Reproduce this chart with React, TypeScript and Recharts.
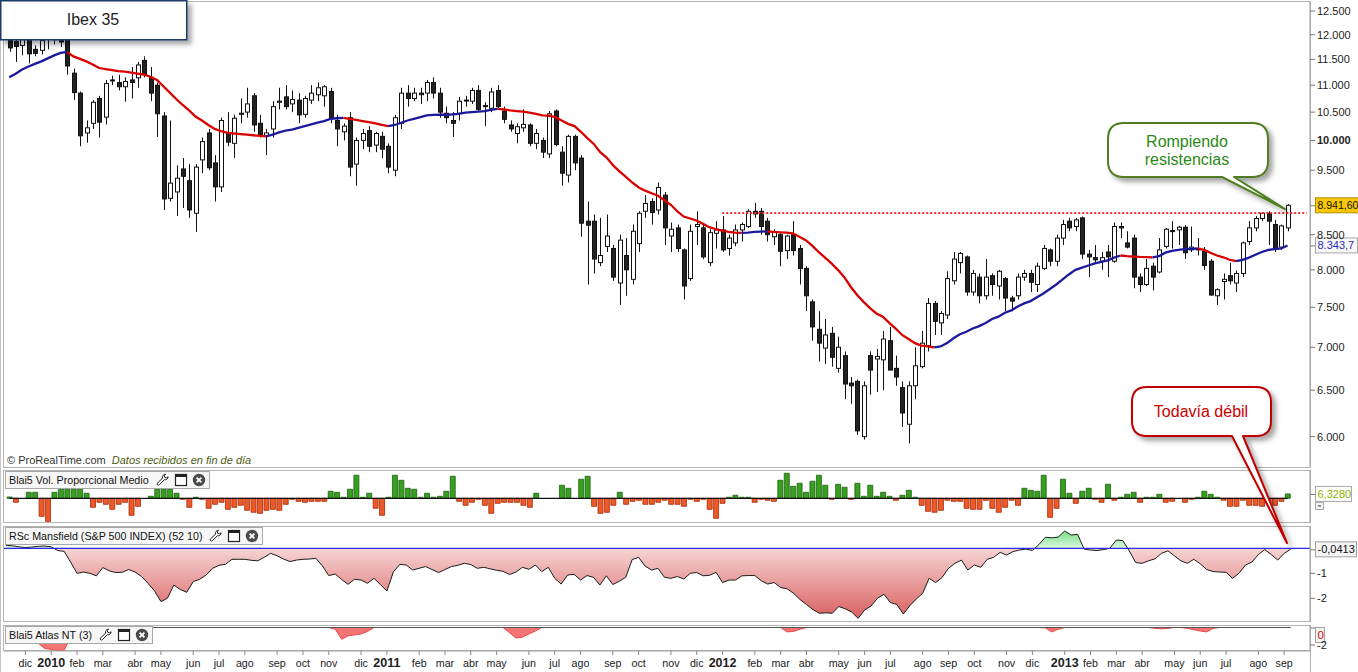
import React from "react";
import {
  ComposedChart,
  Bar,
  Line,
  Area,
  XAxis,
  YAxis,
  ReferenceLine,
  Cell,
} from "recharts";

// Ibex 35, weekly candles from the week of 16 nov 2009 to the week of 9 sep 2013
const opens = [
  11950, 11860, 11780, 11900, 11700, 11680, 11900, 12000, 11900, 11900,
  11230, 10850, 10130, 10300, 10750, 10410, 11100, 11050, 10970, 11100,
  11140, 11480, 11150, 11000, 10430, 9050, 9150, 9520, 9330, 8820,
  9670, 10130, 9620, 9230, 10130, 9950, 10460, 10500, 10800, 10300,
  10080, 10200, 10680, 10780, 10650, 10720, 10460, 10720, 10820, 10800,
  10880, 10350, 10150, 10400, 9600, 10000, 10170, 9920, 10070, 9900,
  9500, 10300, 10850, 10750, 10850, 10850, 11050, 10850, 10480, 10350,
  10480, 10720, 10700, 10900, 10620, 10570, 10900, 10520, 10270, 10120,
  10220, 10270, 9950, 10000, 9770, 10520, 9800, 9420, 10070, 9700,
  8700, 8700, 8100, 8330, 8300, 7820, 8200, 7870, 8370, 8850,
  9000, 8870, 9100, 8480, 8600, 8280, 7880, 8620, 8600, 8100,
  8520, 8570, 8300, 8380, 8570, 8620, 8850, 8850, 8700, 8470,
  8500, 8270, 8500, 8300, 8020, 7570, 7220, 6990, 7170, 6750,
  6900, 6580, 6600, 6000, 6900, 6860, 6850, 7080, 6750, 6530,
  6130, 6550, 6770, 7020, 7550, 7300, 7400, 7850, 8100, 8180,
  7700, 7900, 7650, 7920, 7780, 7880, 7620, 7650, 7900, 7950,
  7800, 8020, 8280, 8120, 8450, 8700, 8620, 8750, 8220, 8170,
  8120, 8250, 8120, 8620, 8380, 8450, 7900, 7800, 8050, 7970,
  8330, 8560, 8570, 8610, 8280, 8300, 8260, 8120, 7650, 7840,
  7920, 7820, 7950, 8400, 8600, 8740, 8820, 8650, 8320, 8600,
];

const highs = [
  12050, 11900, 11950, 11960, 11780, 11950, 12100, 12200, 12000, 12150,
  11320, 10880, 10350, 10720, 10800, 11100, 11180, 11200, 11150, 11350,
  11450, 11560, 11350, 11050, 10500, 10350, 9580, 9700, 9600, 9600,
  10050, 10200, 9750, 10400, 10500, 10450, 10750, 10950, 10850, 10450,
  10200, 10700, 10950, 11000, 10900, 10850, 10800, 11000, 11050, 11000,
  10950, 10450, 10300, 10500, 10050, 10200, 10250, 10150, 10150, 9950,
  10450, 10950, 11000, 10950, 10950, 11100, 11150, 10950, 10600, 10500,
  10780, 10800, 10950, 11000, 10680, 10950, 11000, 10600, 10350, 10300,
  10550, 10300, 10200, 10050, 10520, 10550, 9900, 10100, 10100, 9750,
  9000, 8800, 8750, 8800, 8350, 8500, 8450, 8650, 8850, 9100,
  9050, 9300, 9150, 8680, 8650, 8300, 8650, 8850, 8650, 8580,
  8700, 8780, 8500, 8650, 8680, 8880, 8980, 8900, 8750, 8580,
  8520, 8500, 8700, 8350, 8050, 7600, 7450, 7350, 7250, 7130,
  6950, 6650, 6620, 6600, 6950, 6980, 7200, 7250, 6900, 6600,
  6600, 7000, 7200, 7620, 7580, 7450, 7980, 8250, 8250, 8200,
  8000, 7950, 8150, 7950, 8000, 7900, 7650, 7950, 8000, 8000,
  8100, 8350, 8300, 8500, 8720, 8750, 8750, 8770, 8280, 8350,
  8250, 8350, 8680, 8680, 8550, 8500, 7950, 8150, 8100, 8450,
  8600, 8700, 8630, 8640, 8620, 8450, 8320, 8150, 7750, 7950,
  8100, 7990, 8400, 8700, 8780, 8830, 8850, 8720, 8650, 8960,
];

const lows = [
  11650, 11450, 11580, 11420, 11560, 11600, 11700, 11800, 11750, 11200,
  10720, 9900, 9960, 10200, 10050, 10280, 11000, 10900, 10690, 10750,
  10950, 11150, 10700, 10060, 8870, 9000, 8780, 8900, 8750, 8540,
  9450, 9500, 9000, 9150, 9900, 9700, 10300, 10400, 10150, 10050,
  9750, 10050, 10550, 10550, 10500, 10300, 10400, 10650, 10700, 10600,
  10300, 9900, 10000, 9400, 9250, 9850, 9800, 9800, 9700, 9450,
  9400, 10200, 10600, 10700, 10650, 10700, 10750, 10400, 10300, 10060,
  10350, 10600, 10650, 10500, 10250, 10500, 10550, 10300, 10150, 9950,
  10150, 9900, 9850, 9700, 9700, 9900, 9250, 9300, 9500, 8470,
  7800, 7950, 8050, 8250, 7850, 7530, 7650, 7800, 8250, 8750,
  8650, 8800, 8350, 8250, 8250, 7600, 7850, 8350, 8150, 8050,
  8300, 8250, 8200, 8330, 8400, 8600, 8750, 8500, 8400, 8350,
  8050, 8150, 8200, 7800, 7450, 7080, 6830, 6800, 6770, 6700,
  6400, 6350, 6020, 5970, 6450, 6480, 6500, 6750, 6550, 6100,
  5930, 6400, 6750, 6950, 7150, 7150, 7350, 7800, 7950, 7650,
  7650, 7550, 7600, 7650, 7600, 7450, 7450, 7600, 7850, 7700,
  7700, 8000, 8050, 8050, 8350, 8550, 8550, 8150, 7900, 8100,
  8000, 7900, 8100, 8450, 8300, 7750, 7700, 7780, 7720, 7950,
  8300, 8300, 8350, 8150, 8250, 8200, 8000, 7650, 7530, 7600,
  7800, 7700, 7900, 8350, 8550, 8700, 8350, 8250, 8280, 8550,
];

const closes = [
  11730, 11760, 11900, 11610, 11620, 11880, 12000, 11900, 11850, 11370,
  10860, 10080, 10220, 10680, 10320, 11030, 11080, 10970, 11070, 11050,
  11390, 11200, 10850, 10470, 9040, 9290, 9370, 9400, 8870, 9550,
  9980, 9540, 9230, 10350, 9970, 10390, 10480, 10650, 10270, 10100,
  10130, 10600, 10700, 10600, 10730, 10450, 10750, 10850, 10950, 10970,
  10400, 10200, 10250, 9550, 10000, 10120, 9900, 10120, 9850, 9550,
  10400, 10850, 10750, 10850, 10820, 11050, 10850, 10500, 10400, 10300,
  10700, 10720, 10900, 10550, 10600, 10870, 10600, 10370, 10200, 10240,
  10280, 9950, 10120, 9800, 10470, 9930, 9450, 10070, 9620, 8670,
  8640, 8150, 8200, 8480, 7900, 8420, 8000, 8550, 8820, 8970,
  8830, 9220, 8600, 8580, 8300, 7780, 8550, 8650, 8180, 8530,
  8570, 8280, 8450, 8570, 8650, 8850, 8810, 8620, 8500, 8540,
  8260, 8480, 8270, 8020, 7650, 7250, 7050, 7150, 6880, 7000,
  6570, 6550, 6060, 6550, 6730, 6890, 7100, 6730, 6650, 6250,
  6550, 6780, 7050, 7550, 7320, 7420, 7880, 8150, 8230, 7700,
  7950, 7650, 7900, 7800, 7980, 7620, 7580, 7900, 7950, 7830,
  8050, 8300, 8120, 8450, 8650, 8600, 8720, 8220, 8180, 8140,
  8170, 8180, 8620, 8600, 8320, 7900, 7800, 8020, 7900, 8280,
  8580, 8550, 8610, 8240, 8320, 8280, 8060, 7660, 7730, 7870,
  7850, 7950, 8380, 8600, 8740, 8820, 8700, 8300, 8630, 8942,
];

// moving average, read off the picture (drawn blue while rising, red while falling)
const movingAvg = [
  11150, 11220, 11300, 11360, 11410, 11460, 11520, 11580, 11630, 11650,
  11560, 11510, 11460, 11400, 11330, 11310, 11290, 11270, 11260, 11240,
  11220, 11200, 11160, 11100, 10980, 10860, 10740, 10630, 10530, 10420,
  10350, 10270, 10200, 10160, 10130, 10120, 10110, 10100, 10090, 10080,
  10070, 10100, 10140, 10170, 10190, 10220, 10250, 10280, 10310, 10340,
  10380, 10390, 10395, 10380, 10360, 10340, 10320, 10300, 10270, 10250,
  10270, 10310, 10350, 10380, 10410, 10440, 10450, 10455, 10450, 10460,
  10470, 10490, 10500, 10510, 10520, 10540, 10560, 10550, 10530, 10520,
  10510, 10490, 10470, 10440, 10435, 10410, 10350, 10290, 10250, 10150,
  10040, 9940, 9800, 9710, 9580, 9480, 9390, 9300, 9220, 9170,
  9130, 9090, 9020, 8950, 8850, 8770, 8740, 8710, 8660, 8610,
  8580, 8560, 8540, 8530, 8525, 8530, 8540, 8545, 8550, 8540,
  8535, 8530, 8520, 8470, 8420, 8340, 8250, 8170, 8090, 8000,
  7900, 7770, 7660, 7570, 7490, 7420, 7380, 7300, 7230, 7150,
  7100, 7050, 7020, 7010, 7000, 7010, 7050, 7110, 7160, 7190,
  7230, 7260, 7300, 7350, 7380, 7430, 7460, 7510, 7550, 7580,
  7630, 7680, 7740, 7800, 7870, 7940, 8000, 8030, 8060, 8090,
  8110, 8130, 8170, 8200, 8190, 8185, 8180, 8178, 8175, 8190,
  8240, 8265, 8280, 8290, 8295, 8300, 8280, 8240, 8200, 8175,
  8140, 8120, 8140, 8170, 8210, 8250, 8280, 8290, 8300, 8344,
];

// Blai5 Vol. Proporcional Medio
const volume = [
  1.9, -5.8, 0, 8.7, 8.7, -26.1, -33.4, 8.7, 13.1, 13.1,
  13.1, 13.1, 7.3, -13.1, -5.8, -8.7, -16, -8.7, -5.8, -24.7,
  -11.6, 0, 2.9, 13.1, 13.1, 13.1, 7.3, -1.5, -13.1, 1.5,
  -1.5, -14.5, -8.7, -5.8, -16, -13.1, -10.2, -17.4, -20.3, -21.8,
  -17.4, -16, -17.4, -8.7, -1.5, -4.4, -5.8, -4.4, -4.4, -4.4,
  10.2, 8.7, 1.5, 13.1, 33.4, 1.5, 7.3, -14.5, -24.7, 1.5,
  33.4, 26.1, 14.5, 13.1, 1.5, 7.3, 1.5, 2.9, 10.2, 31.9,
  -4.4, -10.2, -5.8, -1.5, -10.2, -21.8, -7.3, -5.8, -5.8, -5.8,
  -10.2, -13.1, 7.3, 0, 0, 0, 18.9, 14.5, 0, 27.6,
  31.9, -11.6, -21.8, -20.3, -10.2, 8.7, -8.7, -4.4, -2.9, -8.7,
  -8.7, -5.8, -2.9, -8.7, -8.7, -11.6, -1.5, -4.4, -1.5, -16,
  -29, -7.3, 1.5, 4.4, 1.5, 1.5, -5.8, -1.5, -2.9, -4.4,
  26.1, 36.3, 17.4, 21.8, 8.7, 24.7, 33.4, 18.9, -1.5, 20.3,
  16, -1.5, 21.8, 2.9, 18.9, 2.9, 8.7, 2.9, -2.9, 4.4,
  11.6, 1.5, -10.2, -18.9, -20.3, -17.4, -2.9, -4.4, -4.4, -14.5,
  -16, -16, -2.9, -14.5, -20.3, -13.1, -2.9, -10.2, 14.5, 11.6,
  10.2, 33.4, -27.6, -14.5, 27.6, 7.3, -7.3, 10.2, 14.5, -1.5,
  -5.8, 20.3, -2.9, 1.5, 5.8, 8.7, -5.8, 1.5, 1.5, 5.8,
  -5.8, -4.4, 0, -5.8, -1.5, 1.5, 10.2, 5.8, 1.5, -2.9,
  -11.6, -11.6, -2.9, -10.2, -10.2, -11.6, -7.3, -10.2, -4.4, 6.328,
];

// RSc Mansfield (S&P 500 INDEX) (52 10)
const rsc = [
  0.12, 0.1, 0.06, 0.03, 0.05, 0.08, 0.09, 0.06, -0.09, -0.12,
  -0.55, -1.0, -0.95, -1.0, -1.1, -0.77, -0.9, -0.97, -0.96, -0.85,
  -0.95, -1.13, -1.4, -1.7, -2.13, -2.0, -1.47, -1.65, -1.76, -1.33,
  -1.24, -1.07, -0.8, -0.68, -0.64, -0.44, -0.44, -0.44, -0.48, -0.5,
  -0.36, -0.2, -0.3, -0.43, -0.53, -0.47, -0.44, -0.43, -0.4, -0.7,
  -1.09, -1.03, -1.25, -1.44, -1.24, -1.27, -1.4, -1.2, -1.45, -1.71,
  -0.95, -0.64, -0.67, -0.87, -0.8, -0.73, -0.85, -0.97, -0.85, -0.73,
  -0.68, -0.6, -0.65, -0.8, -0.76, -0.82, -0.88, -0.92, -1.05, -0.95,
  -0.76, -0.84, -0.67, -0.93, -0.76, -1.2, -1.43, -1.07, -1.04, -1.27,
  -1.09, -1.16, -1.47, -1.1, -1.45, -1.32, -1.16, -0.45, -0.36, -0.71,
  -0.87, -0.8, -1.16, -1.2, -1.13, -1.23, -1.0, -0.97, -1.1, -1.08,
  -0.96, -1.37, -1.27, -1.27, -1.1, -1.09, -1.09, -1.3, -1.43, -1.37,
  -1.57, -1.62, -1.8, -2.05, -2.25, -2.45, -2.6, -2.58, -2.6, -2.33,
  -2.42, -2.55, -2.8, -2.47, -2.31, -2.0, -1.84, -2.17, -2.25, -2.63,
  -2.3, -2.03, -1.8, -1.2, -1.37, -1.17, -0.8, -0.6, -0.47, -0.87,
  -0.67, -0.76, -0.44, -0.36, -0.16, -0.27, -0.13, -0.07, -0.03, -0.09,
  0.15, 0.44, 0.42, 0.45, 0.69, 0.53, 0.56, -0.03, -0.07, -0.09,
  -0.05, 0.0, 0.33, 0.31, -0.1, -0.57, -0.6, -0.5, -0.42, -0.2,
  -0.1, -0.3, -0.5, -0.6, -0.44, -0.62, -0.85, -0.93, -0.95, -0.96,
  -1.2, -1.0, -0.67, -0.55, -0.25, -0.05, -0.25, -0.47, -0.2, -0.04,
];

// Blai5 Atlas NT (3)
const atlas = [
  0, 0, 0, -0.3, -1.0, -1.8, -2.4, -2.5, -2.6, -2.6, -1.2, 0, 0, 0, 0, 0, 0, 0, 0, 0,
  0, 0, 0, 0, 0, 0, 0, 0, 0, 0, 0, 0, 0, 0, 0, 0, 0, 0, 0, 0,
  0, 0, 0, 0, 0, 0, 0, 0, 0, 0, 0, -0.2, -1.35, -0.95, -0.85, -0.75, -0.45, 0, 0, 0,
  0, 0, 0, 0, 0, 0, 0, 0, 0, 0, 0, 0, 0, 0, 0, 0, 0, 0, -0.6, -1.2,
  -1.1, -0.75, -0.4, 0, 0, 0, 0, 0, 0, 0, 0, 0, 0, 0, 0, 0, 0, 0, 0, 0,
  0, 0, 0, 0, 0, 0, 0, 0, 0, 0, 0, 0, 0, 0, 0, 0, 0, 0, 0, 0,
  0, -0.5, -0.45, -0.2, 0, 0, 0, 0, 0, 0, 0, 0, 0, 0, 0, 0, 0, 0, 0, 0,
  0, 0, 0, 0, 0, 0, 0, 0, 0, 0, 0, 0, 0, 0, 0, 0, 0, 0, 0, 0,
  0, -0.05, -0.5, -0.2, 0, 0, 0, 0, 0, 0, 0, 0, 0, 0, 0, 0, 0, 0, -0.1, -0.15,
  -0.1, 0, 0, -0.1, -0.25, -0.4, -0.5, -0.1, 0, 0, 0, 0, 0, 0, 0, 0, 0, 0, 0, 0,
];

const monthTickIdx = [
  3, 7, 11, 15, 20, 24, 29, 33, 37, 42, 46, 50, 55,
  59, 64, 68, 72, 76, 81, 85, 89, 94, 98, 103, 107,
  111, 116, 120, 124, 129, 133, 137, 142, 146, 150, 155, 159,
  164, 168, 172, 176, 181, 185, 189, 194, 198,
];
const monthTickLabels = [
  "dic", "2010", "feb", "mar", "abr", "may", "jun", "jul", "ago", "sep", "oct", "nov", "dic",
  "2011", "feb", "mar", "abr", "may", "jun", "jul", "ago", "sep", "oct", "nov", "dic",
  "2012", "feb", "mar", "abr", "may", "jun", "jul", "ago", "sep", "oct", "nov", "dic",
  "2013", "feb", "mar", "abr", "may", "jun", "jul", "ago", "sep",
];

// 9.000 sits under the last-price tag in the picture, so it is not labelled
const priceTicks = [6000, 6500, 7000, 7500, 8000, 8500, 9500, 10000, 10500, 11000, 11500, 12000, 12500];
const resistance = 8823;
const lastPrice = 8941.6;
const lastMa = 8343.7;
const lastVol = 6.328;
const lastRsc = -0.0413;

const W = 1358;
const FONT = "'Liberation Sans', Arial, sans-serif";
const PAD_ROWS = 3; // empty weeks right of the last candle
const n = opens.length;

const rising = (k: number) => k > 0 && k < n && movingAvg[k] >= movingAvg[k - 1];

const rows = Array.from({ length: n + PAD_ROWS }, (_, i) => {
  if (i >= n) return { i };
  return {
    i,
    o: opens[i],
    h: highs[i],
    l: lows[i],
    c: closes[i],
    range: [lows[i], highs[i]],
    maUp: rising(i) || rising(i + 1) ? movingAvg[i] : null,
    maDown: (i > 0 && !rising(i)) || (i + 1 < n && !rising(i + 1)) ? movingAvg[i] : null,
    vol: volume[i],
    rsc: rsc[i],
    atlas: atlas[i],
  };
});

const thousands = (s: string) => s.replace(/\B(?=(\d{3})+(?!\d))/g, ".");
const fmt = (v: number, dec: number) => {
  const [a, b] = Math.abs(v).toFixed(dec).split(".");
  return (v < 0 ? "-" : "") + thousands(a) + (b ? "," + b : "");
};

const tickLabel: Record<number, string> = {};
monthTickIdx.forEach((k, j) => (tickLabel[k] = monthTickLabels[j]));

// panel geometry
const MAIN_H = 468;
const VOL_TOP = 470, VOL_H = 53, VOL_DOMAIN: [number, number] = [-35.8, 41];
const RSC_TOP = 526, RSC_H = 96, RSC_DOMAIN: [number, number] = [-2.948, 0.892];
const ATL_TOP = 625, ATL_H = 26, ATL_DOMAIN: [number, number] = [-2.686, 0.286];

function Candle(props: any) {
  const { x, y, width, height, payload } = props;
  if (!payload || payload.o == null || height == null) return null;
  const { o, h, l, c } = payload;
  const top = Math.min(y, y + height);
  const hh = Math.abs(height);
  const lh = Math.log(h);
  const span = lh - Math.log(l);
  const py = (v: number) => top + ((lh - Math.log(v)) / span) * hh;
  const cx = Math.round(x + width / 2) + 0.5;
  const bTop = py(Math.max(o, c));
  const bBot = py(Math.min(o, c));
  const up = c >= o;
  return (
    <g>
      <line x1={cx} x2={cx} y1={top} y2={top + hh} stroke="#111" strokeWidth={1} />
      <rect
        x={cx - 2}
        y={bTop}
        width={4}
        height={Math.max(1, bBot - bTop)}
        fill={up ? "#ffffff" : "#222222"}
        stroke="#111"
        strokeWidth={1}
      />
    </g>
  );
}

function PriceTick(props: any) {
  const { x, y, payload } = props;
  const v = payload.value;
  return (
    <text x={x} y={y} dy={4} fontSize={11} fontFamily={FONT} fill="#222" fontWeight={v === 10000 ? 700 : 400}>
      {thousands(String(v))}
    </text>
  );
}

function PlainTick(props: any) {
  const { x, y, payload } = props;
  return (
    <text x={x} y={y} dy={4} fontSize={11} fontFamily={FONT} fill="#222">
      {String(payload.value)}
    </text>
  );
}

function MonthTick(props: any) {
  const { x, y, payload } = props;
  const label = tickLabel[payload.value] || "";
  const isYear = /^\d{4}$/.test(label);
  return (
    <text
      x={x}
      y={y + 10}
      textAnchor="middle"
      fontSize={isYear ? 12.5 : 10.7}
      fontWeight={isYear ? 700 : 400}
      fontFamily={FONT}
      fill="#222"
    >
      {label}
    </text>
  );
}

function Tag(props: any) {
  const { viewBox, text, fill, color, border, w, below, extraBox, size = 11.5 } = props;
  if (!viewBox) return null;
  const x = viewBox.x + viewBox.width + 5;
  const y = viewBox.y;
  const top = below ? y - 0.5 : y - 8;
  return (
    <g>
      <line x1={x - 5} x2={x} y1={y + 0.5} y2={y + 0.5} stroke="#777" />
      <rect x={x + 0.5} y={top + 0.5} width={w} height={15} fill={fill} stroke={border} />
      <text x={x + 2.5} y={top + 12} fontSize={size} fontFamily={FONT} fill={color}>
        {text}
      </text>
      {extraBox ? (
        <g>
          <rect x={x + 0.5} y={top + 16.5} width={8} height={7} fill="#f4f4f4" stroke={border} />
          <line x1={x + 3} x2={x + 6} y1={top + 20} y2={top + 20} stroke="#333" />
        </g>
      ) : null}
    </g>
  );
}

function Wrench() {
  return (
    <svg width={14} height={14} viewBox="0 0 14 14">
      <path
        d="M9.5 1.2a3 3 0 0 0-2.9 3.8L1.6 10a1.2 1.2 0 0 0 1.7 1.7l5-5a3 3 0 0 0 3.8-2.9l-1.7 1.1-1.6-.5-.5-1.6z"
        fill="#fff"
        stroke="#222"
        strokeWidth={1}
        strokeLinejoin="round"
      />
    </svg>
  );
}

function WindowIcon() {
  return (
    <svg width={14} height={14} viewBox="0 0 14 14">
      <rect x={1.5} y={1.5} width={11} height={11} fill="#fff" stroke="#222" strokeWidth={1.2} />
      <rect x={1.5} y={1.5} width={11} height={2.5} fill="#222" />
    </svg>
  );
}

function CloseIcon() {
  return (
    <svg width={14} height={14} viewBox="0 0 14 14">
      <circle cx={7} cy={7} r={6.2} fill="#4a4a4a" />
      <path d="M4.6 4.6l4.8 4.8M9.4 4.6l-4.8 4.8" stroke="#fff" strokeWidth={1.8} />
    </svg>
  );
}

function PanelHeader({ top, title }: { top: number; title: string }) {
  return (
    <div
      style={{
        position: "absolute",
        left: 5,
        top,
        height: 16,
        display: "flex",
        alignItems: "center",
        gap: 4,
        padding: "0 3px 0 3px",
        background: "#f6f6f6",
        border: "1px solid #a8a8a8",
        fontSize: 10.7,
        color: "#111",
        whiteSpace: "nowrap",
        fontFamily: FONT,
      }}
    >
      <span style={{ marginRight: 3 }}>{title}</span>
      <Wrench />
      <WindowIcon />
      <CloseIcon />
    </div>
  );
}

function calloutPath(
  x1: number, y1: number, x2: number, y2: number, r: number,
  b1: number, b2: number, tx: number, ty: number
) {
  return [
    `M${x1 + r},${y1}`,
    `L${x2 - r},${y1}`,
    `Q${x2},${y1} ${x2},${y1 + r}`,
    `L${x2},${y2 - r}`,
    `Q${x2},${y2} ${x2 - r},${y2}`,
    `L${b2},${y2}`,
    `L${tx},${ty}`,
    `L${b1},${y2}`,
    `L${x1 + r},${y2}`,
    `Q${x1},${y2} ${x1},${y2 - r}`,
    `L${x1},${y1 + r}`,
    `Q${x1},${y1} ${x1 + r},${y1}`,
    "Z",
  ].join(" ");
}

function Frame({ top, height }: { top: number; height: number }) {
  return (
    <div
      style={{
        position: "absolute",
        left: 3,
        top,
        width: 1308,
        height,
        border: "1px solid #b4b4b4",
        boxSizing: "border-box",
      }}
    />
  );
}

const xAxisHidden = <XAxis dataKey="i" type="category" hide padding={{ left: 2, right: 0 }} />;

export default function App() {
  return (
    <div
      style={{
        position: "relative",
        width: W,
        height: 672,
        background: "#fff",
        overflow: "hidden",
        fontFamily: FONT,
      }}
    >
      <style>{"body{margin:0}"}</style>
      <div style={{ position: "absolute", left: 0, top: 0, width: 1, height: 672, background: "#c4c4c4" }} />
      <Frame top={1} height={467} />
      <Frame top={VOL_TOP} height={VOL_H} />
      <Frame top={RSC_TOP} height={RSC_H} />
      <Frame top={ATL_TOP} height={ATL_H} />
      <div style={{ position: "absolute", left: 1310, top: 651, width: 1, height: 21, background: "#b4b4b4" }} />

      {/* price panel */}
      <div style={{ position: "absolute", left: 0, top: 0 }}>
        <ComposedChart width={W} height={MAIN_H} data={rows} margin={{ top: 2, right: 0, bottom: 2, left: 4 }}>
          {xAxisHidden}
          <YAxis
            orientation="right"
            width={48}
            scale="log"
            domain={[5704, 12696]}
            allowDataOverflow
            ticks={priceTicks}
            interval={0}
            tickSize={5}
            axisLine={{ stroke: "#a0a0a0" }}
            tickLine={{ stroke: "#777" }}
            tick={<PriceTick />}
          />
          <Bar dataKey="range" barSize={5} isAnimationActive={false} shape={(p: any) => <Candle {...p} />} />
          <Line dataKey="maDown" stroke="#d90000" strokeWidth={2.3} dot={false} activeDot={false} isAnimationActive={false} />
          <Line dataKey="maUp" stroke="#1a1a9c" strokeWidth={2.3} dot={false} activeDot={false} isAnimationActive={false} />
          <ReferenceLine
            segment={[{ x: 111, y: resistance }, { x: n + PAD_ROWS - 1, y: resistance }]}
            stroke="#ff2a2a"
            strokeWidth={2}
            strokeDasharray="2 2"
          />
          <ReferenceLine
            y={lastPrice}
            stroke="none"
            label={<Tag text={fmt(lastPrice, 2)} fill="#f8c800" color="#111" border="#b09000" w={46} size={10.5} />}
          />
          <ReferenceLine
            y={lastMa}
            stroke="none"
            label={<Tag text={fmt(lastMa, 1)} fill="#f8f8f8" color="#2a2ab0" border="#a8a8a8" w={42} size={11} />}
          />
        </ComposedChart>
      </div>

      {/* volume panel */}
      <div style={{ position: "absolute", left: 0, top: VOL_TOP }}>
        <ComposedChart width={W} height={VOL_H} data={rows} margin={{ top: 0, right: 0, bottom: 0, left: 4 }}>
          {xAxisHidden}
          <YAxis
            orientation="right"
            width={48}
            domain={VOL_DOMAIN}
            allowDataOverflow
            tick={false}
            tickLine={false}
            axisLine={{ stroke: "#a0a0a0" }}
          />
          <Bar dataKey="vol" barSize={5} isAnimationActive={false}>
            {rows.map((r: any, k) => (
              <Cell
                key={k}
                fill={(r.vol ?? 0) >= 0 ? "#37a020" : "#ec5a2a"}
                stroke={(r.vol ?? 0) >= 0 ? "#1d5e10" : "#a82808"}
                strokeWidth={0.8}
              />
            ))}
          </Bar>
          <ReferenceLine segment={[{ x: 0, y: 0 }, { x: n - 1, y: 0 }]} stroke="#111" strokeWidth={1.2} />
          <ReferenceLine
            y={lastVol}
            stroke="none"
            label={<Tag text={fmt(lastVol, 4)} fill="#ffffff" color="#8cb400" border="#a8a8a8" w={36} size={11} extraBox />}
          />
        </ComposedChart>
      </div>

      {/* RSc Mansfield panel */}
      <div style={{ position: "absolute", left: 0, top: RSC_TOP }}>
        <ComposedChart width={W} height={RSC_H} data={rows} margin={{ top: 0, right: 0, bottom: 0, left: 4 }}>
          <defs>
            <linearGradient id="rscFill" gradientUnits="userSpaceOnUse" x1="0" y1="0" x2="0" y2={RSC_H}>
              <stop offset="0" stopColor="#5ed86a" />
              <stop offset={RSC_DOMAIN[1] / (RSC_DOMAIN[1] - RSC_DOMAIN[0])} stopColor="#dcf8df" />
              <stop offset={RSC_DOMAIN[1] / (RSC_DOMAIN[1] - RSC_DOMAIN[0])} stopColor="#f6d4d4" />
              <stop offset="1" stopColor="#d85a5a" />
            </linearGradient>
          </defs>
          {xAxisHidden}
          <YAxis
            orientation="right"
            width={48}
            domain={RSC_DOMAIN}
            allowDataOverflow
            ticks={[-2, -1]}
            interval={0}
            tickSize={5}
            axisLine={{ stroke: "#a0a0a0" }}
            tickLine={{ stroke: "#777" }}
            tick={<PlainTick />}
          />
          <Area
            dataKey="rsc"
            type="linear"
            baseValue={0}
            stroke="#1a1a1a"
            strokeWidth={1}
            fill="url(#rscFill)"
            fillOpacity={1}
            dot={false}
            activeDot={false}
            isAnimationActive={false}
          />
          <ReferenceLine y={0} stroke="#2a2ae8" strokeWidth={1.2} />
          <ReferenceLine
            y={lastRsc}
            stroke="none"
            label={<Tag text={fmt(lastRsc, 4)} fill="#f4f4f4" color="#111" border="#a0a0a0" w={41} size={11} />}
          />
        </ComposedChart>
      </div>

      {/* Atlas NT panel + time axis */}
      <div style={{ position: "absolute", left: 0, top: ATL_TOP }}>
        <ComposedChart width={W} height={ATL_H + 21} data={rows} margin={{ top: 0, right: 0, bottom: 0, left: 4 }}>
          <XAxis
            dataKey="i"
            type="category"
            padding={{ left: 2, right: 0 }}
            ticks={monthTickIdx}
            interval={0}
            height={21}
            tickSize={4}
            axisLine={{ stroke: "#a0a0a0" }}
            tickLine={{ stroke: "#888" }}
            tick={<MonthTick />}
          />
          <YAxis
            orientation="right"
            width={48}
            domain={ATL_DOMAIN}
            allowDataOverflow
            ticks={[-2]}
            interval={0}
            tickSize={5}
            axisLine={{ stroke: "#a0a0a0" }}
            tickLine={{ stroke: "#777" }}
            tick={<PlainTick />}
          />
          <Area
            dataKey="atlas"
            type="linear"
            baseValue={0}
            stroke="#ee4a4a"
            strokeWidth={1}
            fill="#f47474"
            fillOpacity={1}
            dot={false}
            activeDot={false}
            isAnimationActive={false}
          />
          <ReferenceLine segment={[{ x: 0, y: 0 }, { x: n - 1, y: 0 }]} stroke="#555" strokeWidth={1.2} />
          <ReferenceLine
            y={0}
            stroke="none"
            label={<Tag text="0" fill="#f4f4f4" color="#e00000" border="#a0a0a0" w={9} below />}
          />
        </ComposedChart>
      </div>

      <PanelHeader top={VOL_TOP + 1} title="Blai5 Vol. Proporcional Medio" />
      <PanelHeader top={RSC_TOP + 1} title="RSc Mansfield (S&P 500 INDEX) (52 10)" />
      <PanelHeader top={ATL_TOP + 1} title="Blai5 Atlas NT (3)" />

      {/* annotations */}
      <svg width={W} height={672} style={{ position: "absolute", left: 0, top: 0, pointerEvents: "none" }}>
        <defs>
          <filter id="shadow" x="-20%" y="-30%" width="150%" height="180%">
            <feDropShadow dx="4" dy="4" stdDeviation="2.5" floodColor="#000" floodOpacity="0.35" />
          </filter>
        </defs>
        <text x={7} y={464} fontSize={11} fontFamily={FONT}>
          <tspan fill="#333">© ProRealTime.com</tspan>
          <tspan dx={6} fill="#4d5a12" fontStyle="italic">
            Datos recibidos en fin de día
          </tspan>
        </text>

        <rect x={0.75} y={0.75} width={186} height={39} fill="#fff" stroke="#1f3a68" strokeWidth={1.5} filter="url(#shadow)" />
        <text x={93} y={25} textAnchor="middle" fontSize={16} fontFamily={FONT} fill="#222">
          Ibex 35
        </text>

        <path
          d={calloutPath(1108, 123, 1268, 177, 16, 1222, 1234, 1285, 209)}
          fill="#fff"
          stroke="#4f7f22"
          strokeWidth={2}
          strokeLinejoin="round"
          filter="url(#shadow)"
        />
        <text x={1187} y={147} textAnchor="middle" fontSize={16} fontFamily={FONT} fill="#2a8a14">
          Rompiendo
        </text>
        <text x={1187} y={165} textAnchor="middle" fontSize={16} fontFamily={FONT} fill="#2a8a14">
          resistencias
        </text>

        <path
          d={calloutPath(1132, 387, 1271, 436, 15, 1232, 1243, 1287, 543)}
          fill="#fff"
          stroke="#c00000"
          strokeWidth={2}
          strokeLinejoin="round"
          filter="url(#shadow)"
        />
        <text x={1201} y={417} textAnchor="middle" fontSize={16} fontFamily={FONT} fill="#cc0000">
          Todavía débil
        </text>
      </svg>
    </div>
  );
}
